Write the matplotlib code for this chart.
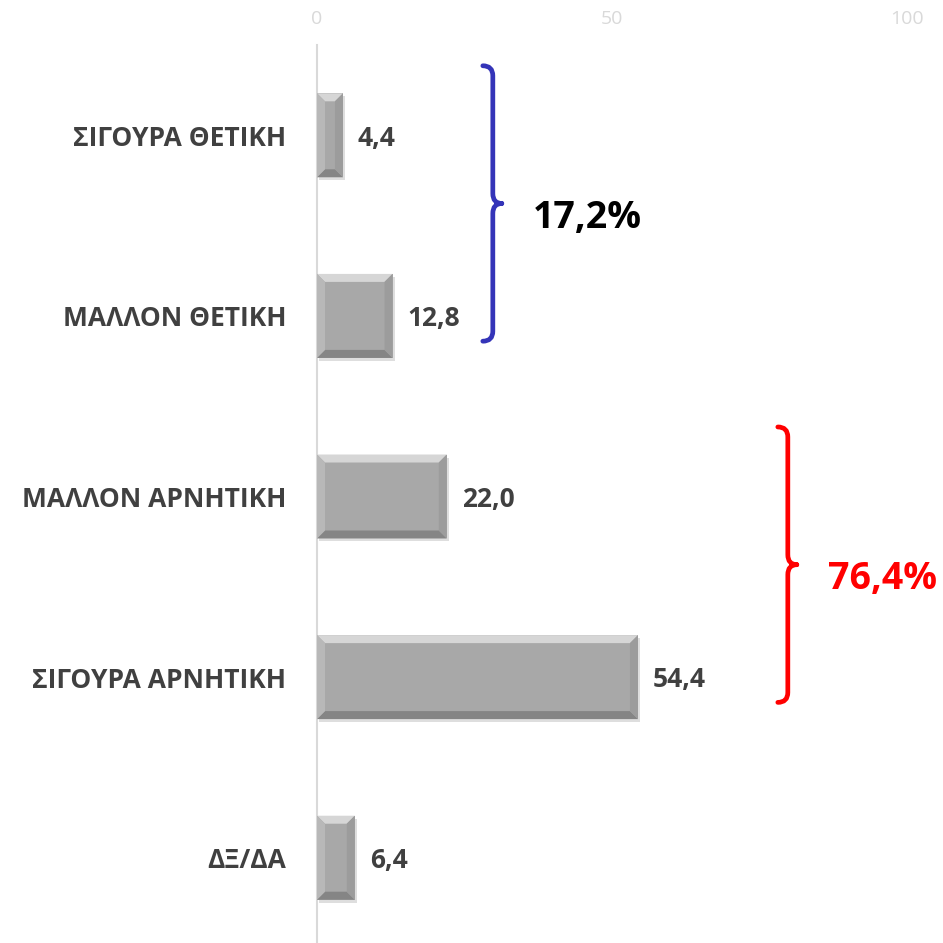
import matplotlib
matplotlib.use("Agg")
import matplotlib.pyplot as plt
from matplotlib.patches import Polygon, Rectangle, PathPatch
from matplotlib.path import Path

plt.rcParams['font.family'] = ['Open Sans', 'DejaVu Sans']

categories = ['ΣΙΓΟΥΡΑ ΘΕΤΙΚΗ', 'ΜΑΛΛΟΝ ΘΕΤΙΚΗ', 'ΜΑΛΛΟΝ ΑΡΝΗΤΙΚΗ',
              'ΣΙΓΟΥΡΑ ΑΡΝΗΤΙΚΗ', 'ΔΞ/ΔΑ']
values = [4.4, 12.8, 22.0, 54.4, 6.4]
value_labels = ['4,4', '12,8', '22,0', '54,4', '6,4']
ticks = [0, 50, 100]
groups = [(0, 1, '17,2%', '#3434B8', 'black', 29.8),
          (2, 3, '76,4%', '#FF0000', '#FF0000', 79.8)]

W = 943
fig = plt.figure(figsize=(W / 100, W / 100), dpi=100)
ax = fig.add_axes([317 / W, -5 / W, 590 / W, 903 / W])

ypos = list(range(len(categories)))
bars = ax.barh(ypos, values, height=0.465, color='#A8A8A8', zorder=3)
ax.set_xlim(0, 100)
ax.set_ylim(len(categories) - 0.5, -0.5)

# scale: data units per pixel
px_x = 100 / 590
px_y = len(categories) / 903

# bevel + shadow effect
for b in bars:
    x0, y0 = b.get_x(), b.get_y()
    w, h = b.get_width(), b.get_height()
    x1, y1 = x0 + w, y0 + h
    dx, dy = 8 * px_x, 8 * px_y
    dx = min(dx, w / 2.5)
    ax.add_patch(Rectangle((x0 + 2 * px_x, y0 + 3 * px_y), w, h,
                           color='#C8C8C8', alpha=0.6, zorder=2, lw=0))
    # top (light)
    ax.add_patch(Polygon([(x0, y0), (x1, y0), (x1 - dx, y0 + dy), (x0 + dx, y0 + dy)],
                         closed=True, color='#D6D6D6', lw=0, zorder=4))
    # bottom (dark)
    ax.add_patch(Polygon([(x0, y1), (x1, y1), (x1 - dx, y1 - dy), (x0 + dx, y1 - dy)],
                         closed=True, color='#858585', lw=0, zorder=4))
    # left
    ax.add_patch(Polygon([(x0, y0), (x0 + dx, y0 + dy), (x0 + dx, y1 - dy), (x0, y1)],
                         closed=True, color='#B8B8B8', lw=0, zorder=4))
    # right
    ax.add_patch(Polygon([(x1, y0), (x1 - dx, y0 + dy), (x1 - dx, y1 - dy), (x1, y1)],
                         closed=True, color='#9C9C9C', lw=0, zorder=4))

for v, lab, y in zip(values, value_labels, ypos):
    ax.text(v + 15 * px_x, y + 0.015, lab, ha='left', va='center', fontsize=19,
            fontweight='bold', color='#404040', zorder=5)

ax.set_yticks(ypos)
ax.set_yticklabels(categories, fontsize=19, fontweight='bold', color='#404040')
ax.tick_params(axis='y', length=0, pad=22)

ax.xaxis.tick_top()
ax.set_xticks(ticks)
ax.set_xticklabels([str(t) for t in ticks], fontsize=14, color='#D9D9D9')
ax.tick_params(axis='x', length=0, pad=12)

for s in ['top', 'right', 'bottom']:
    ax.spines[s].set_visible(False)
ax.spines['left'].set_color('#D9D9D9')
ax.spines['left'].set_linewidth(1.5)
ax.spines['left'].set_bounds(-0.5, len(categories) - 0.5)


def brace(ax, x, ytop, ybot, color):
    hx = 10 * px_x
    hy = 10 * px_y
    ym = (ytop + ybot) / 2
    verts = [(x - hx, ytop), (x, ytop), (x, ytop + hy),
             (x, ym - hy),
             (x, ym), (x + hx * 0.9, ym), (x + hx * 0.9, ym),
             (x + hx * 0.9, ym), (x, ym), (x, ym + hy),
             (x, ybot - hy),
             (x, ybot), (x - hx, ybot)]
    codes = [Path.MOVETO, Path.CURVE3, Path.CURVE3,
             Path.LINETO,
             Path.CURVE3, Path.CURVE3, Path.MOVETO,
             Path.MOVETO, Path.CURVE3, Path.CURVE3,
             Path.LINETO,
             Path.CURVE3, Path.CURVE3]
    ax.add_patch(PathPatch(Path(verts, codes), fill=False, edgecolor=color,
                           lw=3.4, capstyle='round', joinstyle='round',
                           zorder=6, clip_on=False))
    return ym


for i0, i1, lab, bcol, tcol, bx in groups:
    ytop = ypos[i0] - 0.385
    ybot = ypos[i1] + 0.14
    ym = brace(ax, bx, ytop, ybot, bcol)
    ax.text(bx + 40 * px_x, ym + 0.08, lab, ha='left', va='center', fontsize=27,
            fontweight='bold', color=tcol, clip_on=False)

fig.savefig('out.png', dpi=100)
